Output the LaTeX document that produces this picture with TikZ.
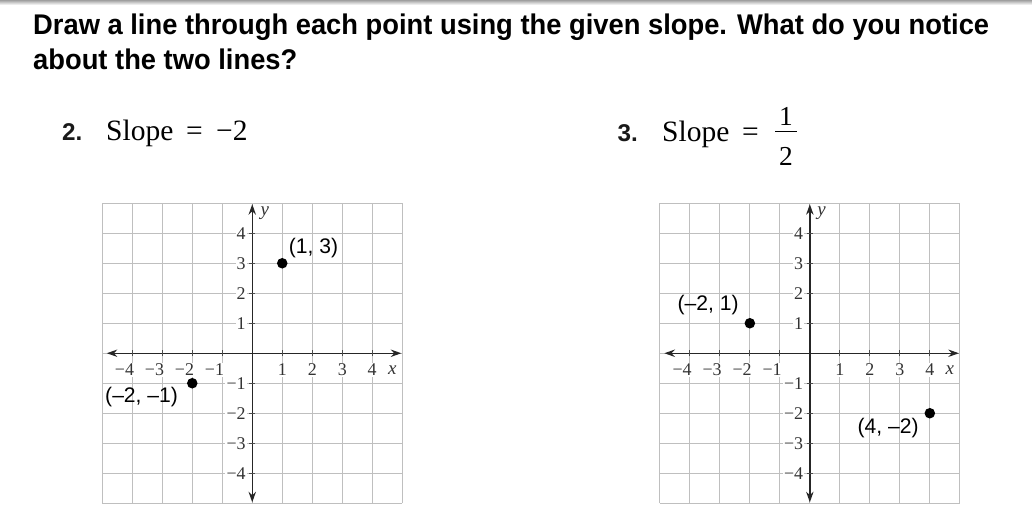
\documentclass[tikz,border=0pt]{standalone}
\usepackage{fontspec}
\setmainfont{Liberation Serif}
\newfontfamily\titlefont[FakeStretch=0.96]{Liberation Sans}
\newfontfamily\lblfont{Liberation Sans}
\usetikzlibrary{arrows.meta}
\tikzset{
  titletext/.style={anchor=base west, inner sep=0pt, font=\titlefont\bfseries\fontsize{27}{30}\selectfont, text=black},
  numtext/.style={anchor=base west, inner sep=0pt, font=\lblfont\bfseries\fontsize{23}{26}\selectfont, text=black!90},
  serifbig/.style={anchor=base west, inner sep=0pt, font=\fontsize{28}{32}\selectfont},
  fracdigit/.style={anchor=base, inner sep=0pt, font=\fontsize{26}{30}\selectfont},
  gridline/.style={draw=gray!50, line width=1.1pt},
  axisline/.style={draw=black!85, line width=1.3pt},
  axisarrow/.style={axisline, {Stealth[length=10pt,width=7pt]}-{Stealth[length=10pt,width=7pt]}},
  tickmark/.style={draw=black!70, line width=0.7pt},
  ticklbl/.style={fill=white, inner sep=1pt, text=black!80, font=\fontsize{17}{19}\selectfont},
  axlbl/.style={inner sep=0pt, text=black!80, font=\itshape\fontsize{18}{20}\selectfont},
  dot/.style={circle, fill=black, inner sep=0pt, minimum size=10pt},
  ptlbl/.style={inner sep=0pt, text=black, font=\lblfont\fontsize{20}{22}\selectfont}
}
\begin{document}
\begin{tikzpicture}[x=0.0333333cm, y=-0.0333333cm]
\useasboundingbox (0,0) rectangle (1032,521);
\fill[white] (0,0) rectangle (1032,521);
\shade[top color=gray!75, bottom color=white] (0,0) rectangle (1032,5);

% title
\node[titletext] (t1) at (33,34) {Draw a line through each point using the given slope. What do you notice};
\node[titletext] (t2) at (33,69) {about the two lines?};

% problem 2
\node[numtext] (n2) at (62,140.7) {2.};
\node[serifbig] (s2) at (106,140.7) {Slope};
\node[serifbig] (e2) at (186,140.7) {=};
\node[serifbig] (v2) at (216,140.7) {−2};

% problem 3
\node[numtext] (n3) at (617.5,141) {3.};
\node[serifbig] (s3) at (662,141) {Slope};
\node[serifbig] (e3) at (742,141) {=};
\node[fracdigit] (f1) at (786,125) {1};
\node[fracdigit] (f2) at (786,165) {2};
\draw[line width=1.2pt] (775,131.7) -- (797,131.7);

% left grid
\begin{scope}[shift={(8.41cm,-11.777cm)}, x=1cm, y=1cm]
  \draw[gridline] (-5,-5) grid (5,5);
  \draw[axisarrow] (-4.85,0) -- (4.97,0);
  \draw[axisarrow] (0,-4.97) -- (0,4.97);
  \foreach \k in {1,...,4} {
    \draw[tickmark] (\k,-0.1) -- (\k,0.1);
    \draw[tickmark] (-\k,-0.1) -- (-\k,0.1);
    \draw[tickmark] (-0.1,\k) -- (0.1,\k);
    \draw[tickmark] (-0.1,-\k) -- (0.1,-\k);
    \node[ticklbl] (Lxp\k) at (\k,-0.55) {\k};
    \node[ticklbl, anchor=east] (Lxn\k) at (-\k+0.1,-0.55) {−\k};
    \node[ticklbl, anchor=east] (Lyp\k) at (-0.18,\k) {\k};
    \node[ticklbl, anchor=east] (Lyn\k) at (-0.18,-\k) {−\k};
  }
  \node[axlbl] (Lx) at (4.67,-0.55) {x};
  \node[axlbl] (Ly) at (0.42,4.67) {y};
  \node[dot] (Lp1) at (1,3) {};
  \node[dot] (Lp2) at (-2,-1) {};
  \node[ptlbl] (Ll1) at (2.04,3.5) {(1, 3)};
  \node[ptlbl] (Ll2) at (-3.69,-1.45) {(–2, –1)};
\end{scope}

% right grid
\begin{scope}[shift={(27.0cm,-11.777cm)}, x=1cm, y=1cm]
  \draw[gridline] (-5,-5) grid (5,5);
  \draw[axisarrow] (-4.85,0) -- (4.97,0);
  \draw[axisarrow] (0,-4.97) -- (0,4.97);
  \foreach \k in {1,...,4} {
    \draw[tickmark] (\k,-0.1) -- (\k,0.1);
    \draw[tickmark] (-\k,-0.1) -- (-\k,0.1);
    \draw[tickmark] (-0.1,\k) -- (0.1,\k);
    \draw[tickmark] (-0.1,-\k) -- (0.1,-\k);
    \node[ticklbl] (Rxp\k) at (\k,-0.55) {\k};
    \node[ticklbl, anchor=east] (Rxn\k) at (-\k+0.1,-0.55) {−\k};
    \node[ticklbl, anchor=east] (Ryp\k) at (-0.18,\k) {\k};
    \node[ticklbl, anchor=east] (Ryn\k) at (-0.18,-\k) {−\k};
  }
  \node[axlbl] (Rx) at (4.67,-0.55) {x};
  \node[axlbl] (Ry) at (0.39,4.67) {y};
  \node[dot] (Rp1) at (-2,1) {};
  \node[dot] (Rp2) at (4,-2) {};
  \node[ptlbl] (Rl1) at (-3.39,1.61) {(–2, 1)};
  \node[ptlbl] (Rl2) at (2.61,-2.5) {(4, –2)};
\end{scope}
\end{tikzpicture}
\end{document}
